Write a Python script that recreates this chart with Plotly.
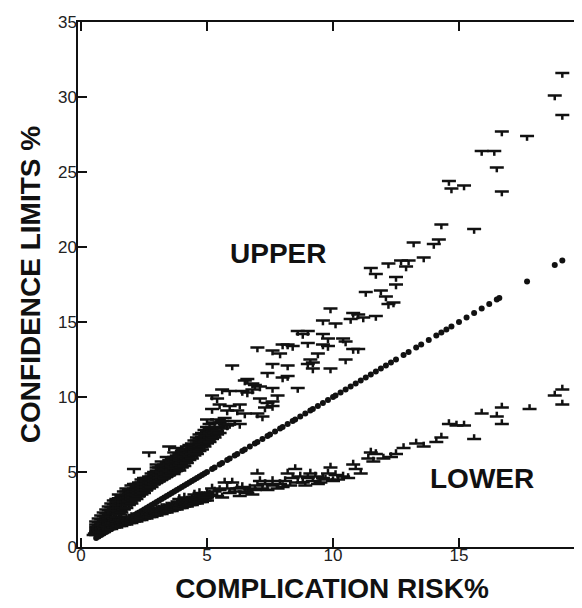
import plotly.graph_objects as go

# ---- data ----
# point estimates of complication risk (%), plotted at (risk, risk)
risk = [0.6, 0.7, 0.8, 0.9, 1.0, 1.1, 1.2, 1.3, 1.4, 1.5, 1.6, 1.7, 1.8, 1.9, 2.0,
        2.1, 2.2, 2.3, 2.4, 2.5, 2.6, 2.7, 2.8, 2.9, 3.0, 3.1, 3.2, 3.3, 3.4, 3.5,
        3.6, 3.7, 3.8, 3.9, 4.0, 4.1, 4.2, 4.3, 4.4, 4.5, 4.6, 4.7, 4.8, 4.9, 5.0,
        5.2, 5.3, 5.5, 5.6, 5.8, 5.9, 6.1, 6.2, 6.4, 6.5, 6.7, 6.9, 7.0, 7.2, 7.4,
        7.5, 7.7, 7.9, 8.0, 8.2, 8.4, 8.5, 8.7, 8.9, 9.1, 9.2, 9.4, 9.6, 9.8, 10.0,
        10.1, 10.3, 10.5, 10.7, 10.9, 11.1, 11.3, 11.5, 11.7, 11.9, 12.1, 12.3, 12.5,
        12.8, 13.0, 13.3, 13.5, 13.8, 14.1, 14.3, 14.5, 14.7, 15.0, 15.3, 15.6, 15.9,
        16.2, 16.5, 16.6, 17.7, 18.8, 19.1]

# upper confidence limits (risk %, limit %)
upper_points = [
    (0.6, 0.9), (0.6, 1.05), (0.6, 1.2), (0.6, 1.35), (0.6, 1.5), (0.6, 1.7),
    (0.7, 1.0), (0.7, 1.2), (0.7, 1.4), (0.7, 1.65), (0.7, 1.9),
    (0.8, 1.1), (0.8, 1.3), (0.8, 1.45), (0.8, 1.6), (0.8, 1.85), (0.8, 2.1),
    (0.9, 1.3), (0.9, 1.55), (0.9, 1.8), (0.9, 2.05), (0.9, 2.3),
    (1.0, 1.4), (1.0, 1.7), (1.0, 1.85), (1.0, 2.0), (1.0, 2.25), (1.0, 2.5),
    (1.1, 1.6), (1.1, 1.9), (1.1, 2.2), (1.1, 2.45), (1.1, 2.7),
    (1.2, 1.7), (1.2, 2.0), (1.2, 2.2), (1.2, 2.4), (1.2, 2.65), (1.2, 2.9),
    (1.3, 1.9), (1.3, 2.25), (1.3, 2.6), (1.3, 2.85), (1.3, 3.1),
    (1.4, 2.0), (1.4, 2.3), (1.4, 2.55), (1.4, 2.8), (1.4, 3.0), (1.4, 3.2),
    (1.5, 2.2), (1.5, 2.4), (1.5, 2.6), (1.5, 2.8), (1.5, 3.0), (1.5, 3.25), (1.5, 3.5),
    (1.6, 2.3), (1.6, 2.6), (1.6, 2.9), (1.6, 3.15), (1.6, 3.4),
    (1.7, 2.5), (1.7, 2.8), (1.7, 3.0), (1.7, 3.2), (1.7, 3.45), (1.7, 3.7),
    (1.8, 2.6), (1.8, 2.8), (1.8, 3.0), (1.8, 3.25), (1.8, 3.5), (1.8, 3.7), (1.8, 3.9),
    (1.9, 2.8), (1.9, 3.05), (1.9, 3.3), (1.9, 3.55), (1.9, 3.8),
    (2.0, 2.9), (2.0, 3.2), (2.0, 3.4), (2.0, 3.6), (2.0, 3.85), (2.0, 4.1),
    (2.1, 3.1), (2.1, 3.3), (2.1, 3.5), (2.1, 3.7), (2.1, 3.9), (2.1, 4.2), (2.1, 5.2),
    (2.2, 3.2), (2.2, 3.45), (2.2, 3.7), (2.2, 3.85), (2.2, 4.0), (2.2, 4.2),
    (2.3, 3.4), (2.3, 3.6), (2.3, 3.8), (2.3, 4.05), (2.3, 4.3),
    (2.4, 3.5), (2.4, 3.7), (2.4, 3.9), (2.4, 4.1), (2.4, 4.3), (2.4, 4.5),
    (2.5, 3.6), (2.5, 3.8), (2.5, 4.0), (2.5, 4.2), (2.5, 4.4), (2.5, 4.6),
    (2.6, 3.8), (2.6, 4.0), (2.6, 4.2), (2.6, 4.4), (2.6, 4.6),
    (2.7, 3.9), (2.7, 4.1), (2.7, 4.3), (2.7, 4.5), (2.7, 4.7), (2.7, 6.3),
    (2.8, 4.0), (2.8, 4.25), (2.8, 4.5), (2.8, 4.7), (2.8, 4.9),
    (2.9, 4.2), (2.9, 4.4), (2.9, 4.6), (2.9, 4.8), (2.9, 5.0),
    (3.0, 4.3), (3.0, 4.5), (3.0, 4.7), (3.0, 4.9), (3.0, 5.1), (3.0, 5.3), (3.0, 5.5),
    (3.1, 4.4), (3.1, 4.6), (3.1, 4.8), (3.1, 5.05), (3.1, 5.3),
    (3.2, 4.5), (3.2, 4.75), (3.2, 5.0), (3.2, 5.2), (3.2, 5.4), (3.2, 5.7),
    (3.3, 4.6), (3.3, 4.85), (3.3, 5.1), (3.3, 5.3), (3.3, 5.5),
    (3.4, 4.7), (3.4, 4.95), (3.4, 5.2), (3.4, 5.4), (3.4, 5.6), (3.4, 6.0),
    (3.5, 4.8), (3.5, 5.05), (3.5, 5.3), (3.5, 5.55), (3.5, 5.8), (3.5, 6.7),
    (3.6, 4.9), (3.6, 5.15), (3.6, 5.4), (3.6, 5.65), (3.6, 5.9),
    (3.7, 5.0), (3.7, 5.25), (3.7, 5.5), (3.7, 5.75), (3.7, 6.0), (3.7, 6.3),
    (3.8, 5.1), (3.8, 5.4), (3.8, 5.7), (3.8, 5.9), (3.8, 6.1), (3.8, 6.6),
    (3.9, 5.1), (3.9, 5.45), (3.9, 5.8), (3.9, 6.0), (3.9, 6.2),
    (4.0, 5.3), (4.0, 5.6), (4.0, 5.9), (4.0, 6.15), (4.0, 6.4),
    (4.1, 5.4), (4.1, 5.7), (4.1, 6.0), (4.1, 6.25), (4.1, 6.5),
    (4.2, 5.6), (4.2, 5.9), (4.2, 6.2), (4.2, 6.45), (4.2, 6.7),
    (4.3, 5.8), (4.3, 6.05), (4.3, 6.3), (4.3, 6.55), (4.3, 6.8),
    (4.4, 5.9), (4.4, 6.2), (4.4, 6.5), (4.4, 6.7), (4.4, 6.9),
    (4.5, 6.1), (4.5, 6.35), (4.5, 6.6), (4.5, 6.85), (4.5, 7.1),
    (4.6, 6.2), (4.6, 6.5), (4.6, 6.8), (4.6, 6.9), (4.6, 7.1), (4.6, 7.3),
    (4.7, 6.4), (4.7, 6.7), (4.7, 7.0), (4.7, 7.25), (4.7, 7.5),
    (4.8, 6.5), (4.8, 6.8), (4.8, 7.1), (4.8, 7.35), (4.8, 7.6),
    (4.9, 6.7), (4.9, 7.0), (4.9, 7.3), (4.9, 7.55), (4.9, 7.8),
    (5.0, 6.9), (5.0, 7.15), (5.0, 7.4), (5.0, 7.7), (5.0, 8.0), (5.0, 8.5),
    (5.1, 7.0), (5.1, 7.3), (5.1, 7.6), (5.1, 7.9), (5.1, 8.2),
    (5.2, 7.2), (5.2, 7.45), (5.2, 7.7), (5.2, 8.0), (5.2, 9.2), (5.2, 10.1),
    (5.3, 7.3), (5.3, 7.6), (5.3, 7.9), (5.3, 8.3), (5.4, 7.5), (5.4, 7.75), (5.4, 8.0),
    (5.4, 8.5), (5.4, 9.9), (5.5, 7.6), (5.5, 8.3), (5.5, 9.5), (5.6, 7.9), (5.6, 8.4),
    (5.6, 10.5), (5.7, 8.2), (5.7, 8.6), (5.8, 8.1), (5.8, 9.1), (5.9, 8.2), (5.9, 9.4),
    (5.9, 10.4), (6.0, 12.1), (6.1, 8.4), (6.2, 9.1), (6.3, 8.2), (6.3, 9.5), (6.4, 10.4),
    (6.5, 8.9), (6.5, 11.1), (6.6, 10.3), (6.6, 11.2), (6.8, 10.5), (6.8, 10.9),
    (6.9, 10.8), (7.0, 8.9), (7.0, 13.3), (7.1, 9.9), (7.1, 10.7), (7.2, 8.7), (7.3, 9.3),
    (7.4, 9.6), (7.4, 11.6), (7.6, 9.4), (7.6, 9.7), (7.6, 10.6), (7.6, 12.2), (7.6, 13.1),
    (7.8, 10.1), (7.9, 12.9), (8.0, 11.3), (8.0, 13.5), (8.2, 11.4), (8.2, 12.1),
    (8.2, 13.5), (8.4, 13.4), (8.6, 10.6), (8.6, 14.4), (8.8, 14.2), (9.0, 12.2),
    (9.0, 13.6), (9.0, 14.4), (9.1, 12.5), (9.2, 11.9), (9.2, 12.3), (9.4, 12.9),
    (9.6, 13.5), (9.6, 14.2), (9.6, 15.1), (9.8, 13.4), (9.8, 13.9), (9.9, 11.9),
    (9.9, 15.9), (10.1, 14.9), (10.4, 13.9), (10.5, 12.5), (10.5, 13.7), (10.7, 15.2),
    (10.8, 13.2), (10.8, 15.6), (11.0, 13.2), (11.0, 15.5), (11.2, 15.3), (11.3, 17.0),
    (11.5, 18.6), (11.7, 15.4), (11.7, 18.2), (11.9, 17.1), (12.1, 16.7), (12.2, 16.2),
    (12.2, 18.9), (12.4, 16.3), (12.5, 17.5), (12.5, 18.0), (12.7, 19.1), (12.9, 18.7),
    (13.0, 19.1), (13.2, 20.3), (13.6, 19.3), (14.0, 20.2), (14.2, 20.5), (14.3, 21.5),
    (14.6, 24.4), (14.7, 23.9), (15.2, 24.1), (15.6, 21.2), (15.9, 26.4), (16.4, 26.4),
    (16.5, 25.3), (16.7, 23.7), (16.7, 27.7), (17.7, 27.4), (18.8, 30.1), (19.1, 28.8),
    (19.1, 31.6),
]

# lower confidence limits (risk %, limit %)
lower_points = [
    (0.5, 0.8), (0.55, 0.9), (0.6, 0.8), (0.6, 1.0), (0.65, 0.95), (0.7, 0.9), (0.7, 1.1),
    (0.75, 1.0), (0.8, 1.0), (0.8, 1.2), (0.85, 1.1), (0.9, 1.0), (0.9, 1.3), (0.95, 1.2),
    (1.0, 1.1), (1.0, 1.4), (1.05, 1.25), (1.1, 1.2), (1.1, 1.5), (1.15, 1.35), (1.2, 1.2),
    (1.2, 1.4), (1.2, 1.6), (1.25, 1.45), (1.3, 1.3), (1.3, 1.6), (1.35, 1.45), (1.4, 1.3),
    (1.4, 1.5), (1.4, 1.7), (1.45, 1.55), (1.5, 1.4), (1.5, 1.7), (1.55, 1.55), (1.6, 1.4),
    (1.6, 1.6), (1.6, 1.8), (1.65, 1.65), (1.7, 1.5), (1.7, 1.8), (1.75, 1.65), (1.8, 1.5),
    (1.8, 1.7), (1.8, 1.9), (1.85, 1.75), (1.9, 1.6), (1.9, 1.9), (1.95, 1.75), (2.0, 1.6),
    (2.0, 1.8), (2.0, 2.0), (2.05, 1.9), (2.1, 1.7), (2.1, 2.0), (2.15, 1.85), (2.2, 1.7),
    (2.2, 1.9), (2.2, 2.1), (2.25, 2.0), (2.3, 1.8), (2.3, 2.1), (2.35, 1.95), (2.4, 1.8),
    (2.4, 2.0), (2.4, 2.2), (2.45, 2.1), (2.5, 1.9), (2.5, 2.2), (2.55, 2.05), (2.6, 1.9),
    (2.6, 2.1), (2.6, 2.3), (2.65, 2.2), (2.7, 2.0), (2.7, 2.3), (2.75, 2.15), (2.8, 2.0),
    (2.8, 2.2), (2.8, 2.4), (2.85, 2.3), (2.9, 2.1), (2.9, 2.4), (2.95, 2.25), (3.0, 2.1),
    (3.0, 2.3), (3.0, 2.5), (3.05, 2.4), (3.1, 2.2), (3.1, 2.5), (3.15, 2.35), (3.2, 2.2),
    (3.2, 2.4), (3.2, 2.6), (3.25, 2.5), (3.3, 2.3), (3.3, 2.6), (3.35, 2.45), (3.4, 2.3),
    (3.4, 2.5), (3.4, 2.7), (3.45, 2.6), (3.5, 2.4), (3.5, 2.7), (3.55, 2.55), (3.6, 2.4),
    (3.6, 2.6), (3.6, 2.8), (3.65, 2.7), (3.7, 2.5), (3.7, 2.8), (3.75, 2.65), (3.8, 2.5),
    (3.8, 2.7), (3.8, 2.9), (3.85, 2.8), (3.9, 2.6), (3.9, 2.9), (3.9, 3.2), (3.95, 2.75),
    (4.0, 2.6), (4.0, 2.8), (4.0, 3.0), (4.05, 2.9), (4.1, 2.7), (4.1, 3.0), (4.1, 3.3),
    (4.15, 2.85), (4.2, 2.7), (4.2, 2.9), (4.2, 3.1), (4.25, 3.0), (4.3, 2.8), (4.3, 3.1),
    (4.35, 2.95), (4.4, 2.8), (4.4, 3.0), (4.4, 3.2), (4.45, 3.1), (4.5, 2.9), (4.5, 3.2),
    (4.5, 3.5), (4.55, 3.05), (4.6, 2.9), (4.6, 3.1), (4.6, 3.3), (4.65, 3.2), (4.7, 3.0),
    (4.7, 3.3), (4.7, 3.6), (4.75, 3.15), (4.8, 3.0), (4.8, 3.2), (4.8, 3.4), (4.85, 3.3),
    (4.9, 3.1), (4.9, 3.4), (4.95, 3.25), (5.0, 3.1), (5.0, 3.3), (5.0, 3.6), (5.1, 3.5),
    (5.2, 3.9), (5.3, 3.7), (5.4, 3.4), (5.5, 3.8), (5.6, 3.3), (5.7, 4.3), (5.8, 3.9),
    (5.9, 3.6), (6.0, 4.3), (6.1, 3.7), (6.2, 3.9), (6.3, 3.4), (6.4, 4.0), (6.5, 3.7),
    (6.6, 3.6), (6.7, 3.9), (6.8, 3.5), (6.9, 3.8), (7.0, 4.1), (7.0, 4.9), (7.1, 4.4),
    (7.2, 3.9), (7.3, 4.2), (7.4, 3.8), (7.6, 4.1), (7.6, 4.4), (7.8, 3.9), (7.9, 4.2),
    (8.0, 4.0), (8.1, 4.4), (8.2, 4.9), (8.3, 4.1), (8.4, 4.6), (8.5, 5.2), (8.6, 4.3),
    (8.7, 4.7), (8.8, 4.3), (8.9, 4.1), (9.0, 4.6), (9.1, 4.9), (9.2, 4.4), (9.3, 4.7),
    (9.4, 4.2), (9.5, 4.3), (9.6, 4.6), (9.7, 4.5), (9.8, 4.9), (9.9, 5.3), (10.0, 4.4),
    (10.1, 4.8), (10.2, 4.5), (10.4, 4.7), (10.6, 4.6), (10.8, 5.5), (10.9, 5.2),
    (11.1, 4.9), (11.4, 5.9), (11.5, 6.3), (11.6, 5.7), (11.7, 6.2), (12.0, 5.9),
    (12.3, 6.0), (12.5, 6.2), (12.8, 6.6), (13.3, 6.9), (13.6, 6.7), (14.1, 7.0),
    (14.3, 7.3), (14.6, 8.2), (14.9, 8.1), (15.2, 8.1), (15.6, 7.2), (15.9, 8.9),
    (16.5, 8.7), (16.7, 8.2), (16.7, 9.3), (17.8, 9.2), (18.8, 10.1), (19.1, 9.5),
    (19.1, 10.5),
]

upper_x = [p[0] for p in upper_points]
upper_y = [p[1] for p in upper_points]
lower_x = [p[0] for p in lower_points]
lower_y = [p[1] for p in lower_points]

x_ticks = [0, 5, 10, 15, 20]
y_ticks = [0, 5, 10, 15, 20, 25, 30, 35]

INK = "#111111"
STEM = 0.32  # stem length of the T / inverted-T symbols (y units)

fig = go.Figure()

# central point estimates
fig.add_trace(go.Scatter(
    x=risk, y=risk, mode="markers",
    marker=dict(symbol="circle", size=6, color=INK),
    showlegend=False, hoverinfo="skip"))

# upper limits: "T" symbols (bar with stem downward)
fig.add_trace(go.Scatter(
    x=upper_x, y=upper_y, mode="markers",
    marker=dict(symbol="line-ew", size=10, line=dict(width=2.5, color=INK)),
    error_y=dict(type="constant", symmetric=False, value=0, valueminus=STEM,
                 width=0, thickness=2.5, color=INK),
    showlegend=False, hoverinfo="skip"))

# lower limits: inverted "T" symbols (bar with stem upward)
fig.add_trace(go.Scatter(
    x=lower_x, y=lower_y, mode="markers",
    marker=dict(symbol="line-ew", size=10, line=dict(width=2.5, color=INK)),
    error_y=dict(type="constant", symmetric=False, value=STEM, valueminus=0,
                 width=0, thickness=2.5, color=INK),
    showlegend=False, hoverinfo="skip"))

label_font = dict(family="Liberation Sans, Arial, sans-serif", size=28,
                  color=INK, weight="bold")

fig.add_annotation(x=7.8, y=19.6, text="UPPER", showarrow=False, font=label_font)
fig.add_annotation(x=15.9, y=4.6, text="LOWER", showarrow=False, font=label_font)

axis_common = dict(
    showgrid=False, zeroline=False, showline=True, linecolor=INK, linewidth=1.5,
    mirror="ticks", ticks="inside", ticklen=9, tickwidth=1.5, tickcolor=INK,
    tickfont=dict(family="Liberation Sans, Arial, sans-serif", size=17, color="#222222"),
    automargin=False, ticklabeloverflow="allow",
)

fig.update_xaxes(
    range=[-0.12, 20.04], tickvals=x_ticks, ticktext=[str(v) for v in x_ticks],
    ticklabelstandoff=-8,
    title=dict(text="COMPLICATION RISK%", font=label_font, standoff=14),
    **axis_common)
fig.update_yaxes(
    range=[0, 35], tickvals=y_ticks, ticktext=[str(v) for v in y_ticks],
    ticklabelstandoff=-4,
    title=dict(text="CONFIDENCE LIMITS %", font=label_font, standoff=9),
    **axis_common)

fig.update_layout(
    width=578, height=608,
    margin=dict(l=70, r=0, t=14, b=69),
    paper_bgcolor="white", plot_bgcolor="white",
)

fig.write_html("out.html")
